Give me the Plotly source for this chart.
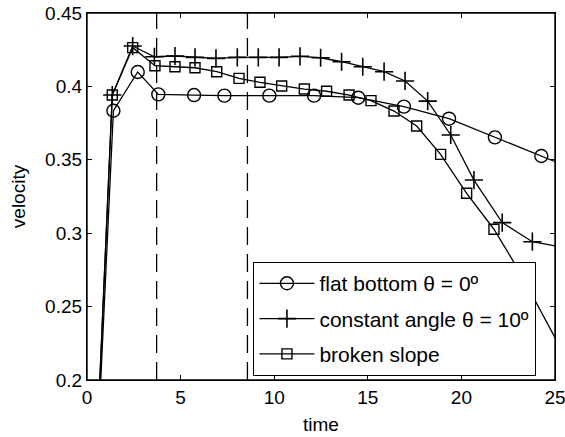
import plotly.graph_objects as go

# flat bottom theta = 0
t_flat = [0, 1.41, 2.71, 3.81, 5.72, 7.34, 9.74, 12.13, 14.49, 16.93, 19.34, 21.79, 24.27, 26.7]
v_flat = [0, 0.3834, 0.4098, 0.3946, 0.3941, 0.3937, 0.3937, 0.3937, 0.3923, 0.3862, 0.378, 0.3653, 0.3526, 0.340]

# constant angle theta = 10
t_const = [0, 1.35, 2.44, 3.60, 4.70, 5.77, 6.89, 8.03, 9.15, 10.26, 11.38, 12.48, 13.60, 14.73,
           15.87, 16.99, 18.20, 19.43, 20.67, 22.18, 23.79, 25.6]
v_const = [0, 0.3941, 0.4275, 0.4202, 0.4207, 0.4198, 0.4191, 0.4198, 0.4198, 0.4198, 0.4205, 0.4195,
           0.4168, 0.4134, 0.4100, 0.4037, 0.3900, 0.3669, 0.3362, 0.3072, 0.2942, 0.2900]

# broken slope
t_broken = [0, 1.35, 2.44, 3.63, 4.70, 5.77, 6.93, 8.12, 9.24, 10.40, 11.61, 12.80, 14.00, 15.17,
            16.40, 17.61, 18.89, 20.28, 21.74, 23.10, 25.5]
v_broken = [0, 0.3941, 0.4264, 0.4141, 0.4134, 0.4127, 0.4100, 0.4055, 0.4028, 0.4003, 0.3982, 0.3967,
            0.3941, 0.3903, 0.3832, 0.3730, 0.3537, 0.3272, 0.3027, 0.2740, 0.2170]

# vertical dashed markers
t_vlines = [3.72, 8.57]

x_ticks = [0, 5, 10, 15, 20, 25]
y_ticks = [0.2, 0.25, 0.3, 0.35, 0.4, 0.45]
y_ticklabels = ["0.2", "0.25", "0.3", "0.35", "0.4", "0.45"]

FONT = "Liberation Sans, Arial, Helvetica, sans-serif"

fig = go.Figure()
line = dict(color="black", width=1.3)
fig.add_trace(go.Scatter(x=t_flat, y=v_flat, mode="lines+markers", name="flat bottom θ = 0º",
                         line=line, legendgroup="a", cliponaxis=True,
                         marker=dict(symbol="circle-open", size=13, color="black", line=dict(width=1.4))))
fig.add_trace(go.Scatter(x=t_const, y=v_const, mode="lines+markers", name="constant angle θ = 10º",
                         line=line, legendgroup="b", cliponaxis=True,
                         marker=dict(symbol="cross-thin-open", size=13, color="black", line=dict(width=1.6))))
fig.add_trace(go.Scatter(x=t_broken, y=v_broken, mode="lines+markers", name="broken slope",
                         line=line, legendgroup="c", cliponaxis=True,
                         marker=dict(symbol="square-open", size=10, color="black", line=dict(width=1.4))))

for tv in t_vlines:
    fig.add_shape(type="line", xref="x", yref="paper", x0=tv, x1=tv, y0=0, y1=1,
                  line=dict(color="black", width=1.3, dash="18px,9px"), layer="below")

# plot frame
fig.add_shape(type="rect", xref="paper", yref="paper", x0=0, x1=1, y0=0, y1=1,
              line=dict(color="black", width=1.4), layer="above")

axis_common = dict(showline=True, linecolor="black", linewidth=1.2, mirror="ticks",
                   ticks="inside", ticklen=5, tickcolor="black", tickwidth=1,
                   showgrid=False, zeroline=False, automargin=False,
                   ticklabeloverflow="allow",
                   tickfont=dict(size=19, color="black", family=FONT))

fig.update_xaxes(range=[0, 25], autorange=False, tickvals=x_ticks, ticktext=[str(v) for v in x_ticks],
                 title=dict(text="time", font=dict(size=19, color="black", family=FONT), standoff=10),
                 **axis_common)
fig.update_yaxes(range=[0.2, 0.45], autorange=False, tickvals=y_ticks, ticktext=y_ticklabels,
                 title=dict(text="velocity", font=dict(size=19, color="black", family=FONT), standoff=14),
                 **axis_common)

fig.update_layout(
    width=565, height=437,
    margin=dict(l=87, r=10, t=13, b=57),
    plot_bgcolor="white", paper_bgcolor="white",
    font=dict(family=FONT, color="black"),
    legend=dict(x=0.355, y=0.322, xanchor="left", yanchor="top",
                bgcolor="white", bordercolor="black", borderwidth=1.3,
                font=dict(size=21, color="black", family=FONT),
                tracegroupgap=5, itemwidth=55),
    showlegend=True,
)

fig.write_html("out.html")
